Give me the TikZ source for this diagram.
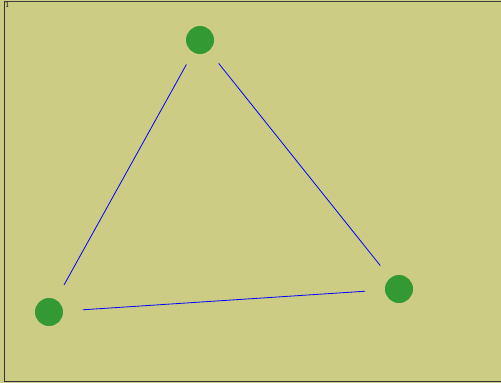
\documentclass[tikz,border=0pt]{standalone}
\begin{document}
\begin{tikzpicture}[x=1pt,y=-1pt,
  dot/.style={circle,fill=dotgreen,draw=none,minimum size=28pt,inner sep=0pt,outer sep=0pt},
  link/.style={draw=blue,line width=0.8pt}]
\definecolor{bg}{RGB}{204,204,132}
\definecolor{dotgreen}{RGB}{51,153,51}
\useasboundingbox (0,0) rectangle (501,383);
\fill[bg] (0,0) rectangle (501,383);
\draw[black!75,line width=1pt] (4,1.5) -- (501,1.5);
\draw[black!80,line width=1.2pt] (4.5,1) -- (4.5,381.5) -- (501,381.5);
\node[font=\fontsize{8}{8}\selectfont,inner sep=0pt,anchor=north west] (lbl) at (5,2) {1};
\node[dot] (a) at (200,40) {};
\node[dot] (b) at (49,312) {};
\node[dot] (c) at (399,289) {};
\draw[link,shorten <=14pt,shorten >=17pt] (a) -- (b);
\draw[link,shorten <=16pt,shorten >=16pt] (a) -- (c);
\draw[link,shorten <=20pt,shorten >=20pt] (b) -- (c);
\end{tikzpicture}
\end{document}
